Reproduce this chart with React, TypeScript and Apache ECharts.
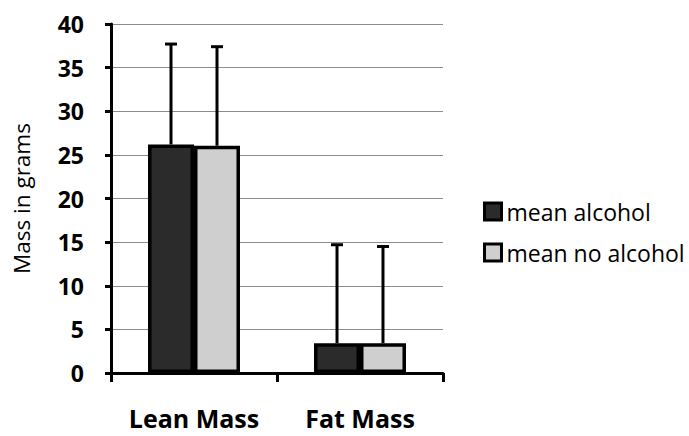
import React, { useEffect, useRef } from "react";
import * as echarts from "echarts";

const categories = ["Lean Mass", "Fat Mass"];
const seriesNames = ["mean alcohol", "mean no alcohol"];
const meanAlcohol = [26.2, 3.4];
const meanNoAlcohol = [26.05, 3.4];
const errAlcohol = [11.5, 11.3];
const errNoAlcohol = [11.35, 11.1];
const yTicks = { min: 0, max: 40, interval: 5 };

const FONT = "'Open Sans', sans-serif";
const BAR_FRAC = 0.277;

function errorSeries(name: string, means: number[], errs: number[], side: number) {
  return {
    type: "custom",
    name: name + " error",
    z: 5,
    silent: true,
    data: means.map((m, i) => [i, m, errs[i]]),
    renderItem: (params: any, api: any) => {
      const idx = api.value(0);
      const val = api.value(1);
      const err = api.value(2);
      const band = api.size([1, 0])[0];
      const off = (side * band * BAR_FRAC) / 2;
      const base = api.coord([idx, val]);
      const top = api.coord([idx, val + err]);
      const x = base[0] + off;
      const cap = 6;
      return {
        type: "group",
        children: [
          {
            type: "line",
            shape: { x1: x, y1: base[1], x2: x, y2: top[1] },
            style: { stroke: "#000", lineWidth: 3 },
          },
          {
            type: "line",
            shape: { x1: x - cap, y1: top[1], x2: x + cap, y2: top[1] },
            style: { stroke: "#000", lineWidth: 3 },
          },
        ],
      };
    },
  };
}

export default function App() {
  const ref = useRef<HTMLDivElement>(null);
  useEffect(() => {
    if (!ref.current) return;
    const chart = echarts.init(ref.current, undefined, { renderer: "svg" });
    chart.setOption({
      animation: false,
      backgroundColor: "#fff",
      textStyle: { fontFamily: FONT },
      grid: { left: 111, top: 24, right: 246, bottom: 63, containLabel: false },
      legend: {
        orient: "vertical",
        left: 478,
        top: 195,
        itemWidth: 17,
        itemHeight: 17,
        itemGap: 18,
        itemTextGap: 4,
        icon: "rect",
        data: seriesNames,
        textStyle: { fontFamily: FONT, fontSize: 23, color: "#000" },
        itemStyle: { borderColor: "#000", borderWidth: 3 },
      },
      xAxis: {
        type: "category",
        data: categories,
        axisLine: { show: true, lineStyle: { color: "#000", width: 3 } },
        axisTick: { show: true, length: 9, lineStyle: { color: "#000", width: 3 } },
        axisLabel: {
          interval: 0,
          color: "#000",
          fontFamily: FONT,
          fontWeight: "bold",
          fontSize: 25,
          lineHeight: 34,
          margin: 28,
        },
      },
      yAxis: {
        type: "value",
        min: yTicks.min,
        max: yTicks.max,
        interval: yTicks.interval,
        name: "Mass in grams",
        nameLocation: "middle",
        nameGap: 78,
        nameTextStyle: { color: "#000", fontFamily: FONT, fontSize: 22.5 },
        axisLine: { show: true, lineStyle: { color: "#000", width: 3 } },
        axisTick: { show: true, length: 6, lineStyle: { color: "#000", width: 3 } },
        axisLabel: {
          color: "#000",
          fontFamily: FONT,
          fontWeight: "bold",
          fontSize: 23,
          margin: 27,
        },
        splitLine: { show: true, lineStyle: { color: "#8c8c8c", width: 1 } },
      },
      series: [
        {
          type: "bar",
          name: seriesNames[0],
          data: meanAlcohol,
          barWidth: BAR_FRAC * 100 + "%",
          barGap: "0%",
          itemStyle: { color: "#2b2b2b", borderColor: "#000", borderWidth: 3.5 },
        },
        {
          type: "bar",
          name: seriesNames[1],
          data: meanNoAlcohol,
          barWidth: BAR_FRAC * 100 + "%",
          barGap: "0%",
          itemStyle: { color: "#cfcfcf", borderColor: "#000", borderWidth: 3.5 },
        },
        errorSeries(seriesNames[0], meanAlcohol, errAlcohol, -1),
        errorSeries(seriesNames[1], meanNoAlcohol, errNoAlcohol, 1),
      ],
    });
    return () => chart.dispose();
  }, []);
  return <div ref={ref} style={{ width: 689, height: 436, position: "absolute", left: 0, top: 0 }} />;
}
